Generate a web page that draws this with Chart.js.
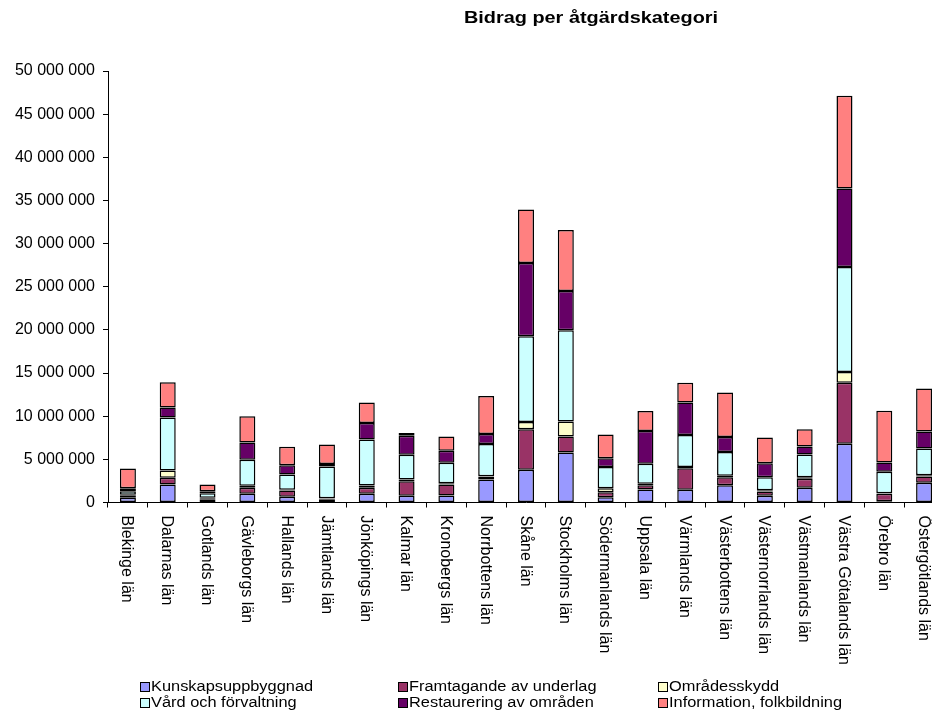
<!DOCTYPE html>
<html>
<head>
<meta charset="utf-8">
<script src="https://cdn.jsdelivr.net/npm/chart.js@4.4.1/dist/chart.umd.min.js"></script>
<style>
  html, body { margin: 0; padding: 0; background: #fff; width: 932px; height: 717px; overflow: hidden; }
  #wrap { position: relative; width: 960px; height: 717px; }
  #c { position: absolute; left: 0; top: 0; }
  #title { position: absolute; left: 591px; top: 8px; transform: translateX(-50%) scaleX(1.17); transform-origin: center; font: bold 17px "Liberation Sans", Arial, sans-serif; color: #000; white-space: nowrap; }
  #legend { position: absolute; left: 0; top: 677px; width: 932px; font: 14px "Liberation Sans", Arial, sans-serif; color: #000; }
  .li { position: absolute; white-space: nowrap; height: 18px; line-height: 18px; }
  .sw { position: absolute; left: 0; top: 5px; width: 8px; height: 8px; border: 1px solid #000; }
  .tx { position: absolute; left: 11px; top: 0; transform: scaleX(1.17); transform-origin: left center; }
</style>
</head>
<body>
<div id="wrap">
  <canvas id="c" width="960" height="717"></canvas>
  <div id="title">Bidrag per åtgärdskategori</div>
  <div id="legend"></div>
</div>
<script>
const categories = ["Blekinge län","Dalarnas län","Gotlands län","Gävleborgs län","Hallands län","Jämtlands län","Jönköpings län","Kalmar län","Kronobergs län","Norrbottens län","Skåne län","Stockholms län","Södermanlands län","Uppsala län","Värmlands län","Västerbottens län","Västernorrlands län","Västmanlands län","Västra Götalands län","Örebro län","Östergötlands län"];

const kunskapsuppbyggnad = [550000,2090000,380000,1010000,660000,310000,1010000,770000,810000,2670000,3790000,5800000,620000,1510000,1470000,2010000,770000,1710000,6810000,150000,2290000];
const framtagande = [300000,770000,120000,690000,730000,120000,700000,1700000,1280000,330000,4710000,1860000,580000,500000,2510000,930000,510000,1040000,7070000,860000,730000];
const omradesskydd = [50000,850000,50000,240000,100000,50000,260000,200000,150000,50000,820000,1740000,460000,160000,120000,150000,150000,190000,1240000,50000,150000];
const vardForvaltning = [400000,6150000,530000,3010000,1750000,3680000,5340000,2860000,2360000,3720000,9940000,10550000,2440000,2330000,3710000,2750000,1510000,2630000,12180000,2500000,3090000];
const restaurering = [350000,1160000,230000,2010000,1080000,310000,1890000,2210000,1400000,1160000,8500000,4560000,1040000,3780000,3790000,1740000,1620000,930000,9090000,1080000,1980000];
const information = [2300000,2900000,780000,3020000,2130000,2240000,2400000,300000,1660000,4400000,6190000,7080000,2750000,2330000,2280000,5180000,2980000,2000000,10740000,5990000,4980000];

const seriesNames = ["Kunskapsuppbyggnad","Framtagande av underlag","Områdesskydd","Vård och förvaltning","Restaurering av områden","Information, folkbildning"];
const seriesColors = ["#9999FF","#993366","#FFFFCC","#CCFFFF","#660066","#FF8080"];
const seriesValues = [kunskapsuppbyggnad, framtagande, omradesskydd, vardForvaltning, restaurering, information];

const yMax = 50000000;
const yStep = 5000000;

function fmt(v) {
  return String(v).replace(/\B(?=(\d{3})+(?!\d))/g, " ");
}

const xLabelPlugin = {
  id: 'xLabels',
  afterDraw(chart) {
    const xs = chart.scales.x;
    const ctx = chart.ctx;
    ctx.save();
    ctx.fillStyle = '#000';
    ctx.font = '16px "Liberation Sans", Arial, sans-serif';
    ctx.textAlign = 'left';
    ctx.textBaseline = 'middle';
    chart.data.labels.forEach((lab, i) => {
      const x = xs.getPixelForTick(i);
      ctx.save();
      ctx.translate(x - 1, xs.top + 13);
      ctx.rotate(Math.PI / 2);
      ctx.fillText(lab, 0, 0);
      ctx.restore();
    });
    ctx.restore();
  }
};

const datasets = seriesNames.map((n, i) => ({
  label: n,
  data: seriesValues[i],
  backgroundColor: seriesColors[i],
  borderColor: '#000',
  borderWidth: 1.5,
  borderSkipped: false,
  categoryPercentage: 1.0,
  barPercentage: 0.402
}));

new Chart(document.getElementById('c'), {
  type: 'bar',
  data: { labels: categories, datasets },
  options: {
    responsive: false,
    devicePixelRatio: 1,
    animation: false,
    layout: { padding: { top: 71, right: 16, bottom: 0, left: 0 } },
    plugins: { legend: { display: false }, title: { display: false }, tooltip: { enabled: false } },
    scales: {
      x: {
        stacked: true,
        afterFit(s) { s.height = 214.5; },
        grid: { offset: true, drawOnChartArea: false, drawTicks: true, tickLength: 5, color: '#000', lineWidth: 1 },
        border: { display: true, color: '#000', width: 1 },
        ticks: { display: false }
      },
      y: {
        stacked: true,
        min: 0, max: yMax,
        afterFit(s) { s.width = 108; },
        grid: { drawOnChartArea: false, drawTicks: true, tickLength: 5, color: '#000', lineWidth: 1 },
        border: { display: true, color: '#000', width: 1 },
        ticks: {
          stepSize: yStep, padding: 8, color: '#000',
          font: { family: '"Liberation Sans", Arial, sans-serif', size: 16 },
          callback: v => fmt(v)
        }
      }
    }
  },
  plugins: [xLabelPlugin]
});

const leg = document.getElementById('legend');
const colX = [140, 398, 658];
seriesNames.forEach((n, i) => {
  const d = document.createElement('div');
  d.className = 'li';
  d.style.left = colX[i % 3] + 'px';
  d.style.top = (Math.floor(i / 3) * 16) + 'px';
  d.innerHTML = '<span class="sw" style="background:' + seriesColors[i] + '"></span><span class="tx">' + n + '</span>';
  leg.appendChild(d);
});
</script>
</body>
</html>
